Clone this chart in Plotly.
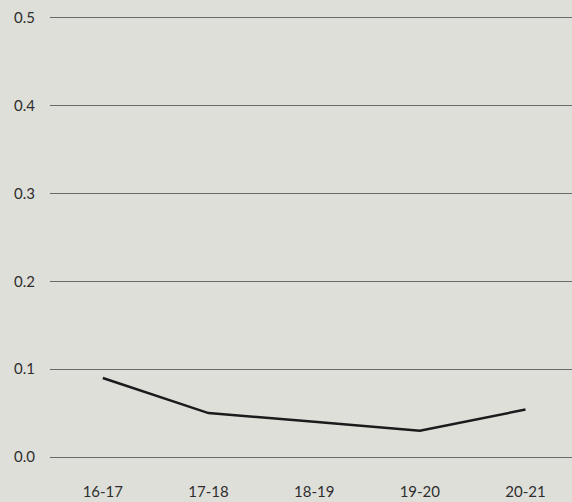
import plotly.graph_objects as go

categories = ["16-17", "17-18", "18-19", "19-20", "20-21"]
values = [0.09, 0.05, 0.04, 0.03, 0.054]
y_ticks = [0.0, 0.1, 0.2, 0.3, 0.4, 0.5]
y_labels = ["0.0", "0.1", "0.2", "0.3", "0.4", "0.5"]

bg = "#dfdfda"
fig = go.Figure(go.Scatter(
    x=categories, y=values, mode="lines",
    line=dict(color="#1c1a1c", width=2.5),
))
fig.update_layout(
    width=572, height=502,
    paper_bgcolor=bg, plot_bgcolor=bg,
    margin=dict(l=50, r=0, t=16, b=45),
    showlegend=False,
    font=dict(family="Lato, sans-serif", size=15, color="#2e2e2e"),
)
fig.update_xaxes(
    type="category", range=[-0.5, 4.44], showgrid=False, zeroline=False,
    showline=False, ticks="", ticklabelstandoff=24,
)
fig.update_yaxes(
    range=[0, 0.502], tickvals=y_ticks, ticktext=y_labels,
    showgrid=True, gridcolor="#6a6a6a", gridwidth=1,
    zeroline=True, zerolinecolor="#6a6a6a", zerolinewidth=1,
    showline=False, ticks="", ticklabelstandoff=14,
)
fig.write_html(
    "out.html",
    config={"displayModeBar": False},
    post_script="document.body.style.margin='0';document.body.style.background='%s';" % bg,
)
